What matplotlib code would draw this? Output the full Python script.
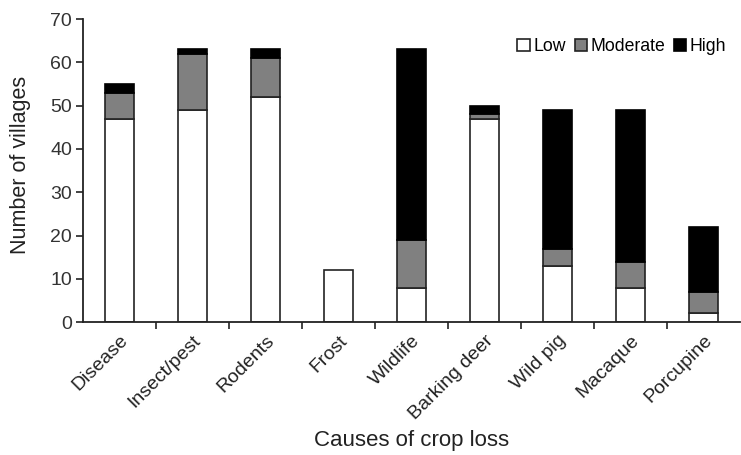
import numpy as np
import matplotlib.pyplot as plt

plt.rcParams['font.family'] = ['Liberation Sans', 'DejaVu Sans']

# 数据
causes = ['Disease', 'Insect/pest', 'Rodents', 'Frost', 'Wildlife',
          'Barking deer', 'Wild pig', 'Macaque', 'Porcupine']
low = [47, 49, 52, 12, 8, 47, 13, 8, 2]
moderate = [6, 13, 9, 0, 11, 1, 4, 6, 5]
high = [2, 1, 2, 0, 44, 2, 32, 35, 15]

fig = plt.figure(figsize=(7.41, 4.55), dpi=100)
ax = fig.add_axes([0.112, 0.292, 0.887, 0.666])

x = np.arange(len(causes))
low = np.array(low)
moderate = np.array(moderate)
high = np.array(high)
w = 0.4
b1 = ax.bar(x, low, w, color='white', edgecolor='#222222', linewidth=1.2, label='Low')
b2 = ax.bar(x, moderate, w, bottom=low, color='#808080', edgecolor='#222222',
            linewidth=1.2, label='Moderate')
b3 = ax.bar(x, high, w, bottom=low + moderate, color='black', edgecolor='black',
            linewidth=1.2, label='High')
# 高度为0的段不画边框
for bars in (b1, b2, b3):
    for p in bars.patches:
        if p.get_height() == 0:
            p.set_visible(False)

ax.set_xlim(-0.5, len(causes) - 0.5)
ax.set_ylim(0, 70)
ax.set_yticks(range(0, 71, 10))
ax.set_xticks(x)
ax.set_xticklabels(causes, rotation=45, ha='right', rotation_mode='anchor',
                   fontsize=14, color='#222222')
ax.tick_params(axis='x', length=0, pad=7)
ax.set_xticks(np.arange(0.5, len(causes) - 0.5, 1), minor=True)
ax.tick_params(axis='x', which='minor', length=5, width=1.2, direction='out',
               color='#222222')
ax.tick_params(axis='y', labelsize=14, length=5, width=1.2, direction='out',
               color='#222222', labelcolor='#333333', pad=3)

for s in ['top', 'right']:
    ax.spines[s].set_visible(False)
for s in ['left', 'bottom']:
    ax.spines[s].set_linewidth(1.3)
    ax.spines[s].set_color('#222222')

ax.set_ylabel('Number of villages', fontsize=15.5, color='#222222')
ax.yaxis.set_label_coords(-0.079, 0.52)
ax.set_xlabel('Causes of crop loss', fontsize=16, color='#222222')
ax.xaxis.set_label_coords(0.5, -0.355)

ax.legend(loc='upper right', bbox_to_anchor=(0.995, 0.972), ncol=3, frameon=False,
          fontsize=12.7, handlelength=0.7, handleheight=0.7, handletextpad=0.2,
          columnspacing=0.5, borderaxespad=0.2)

fig.savefig('out.png', dpi=100)
